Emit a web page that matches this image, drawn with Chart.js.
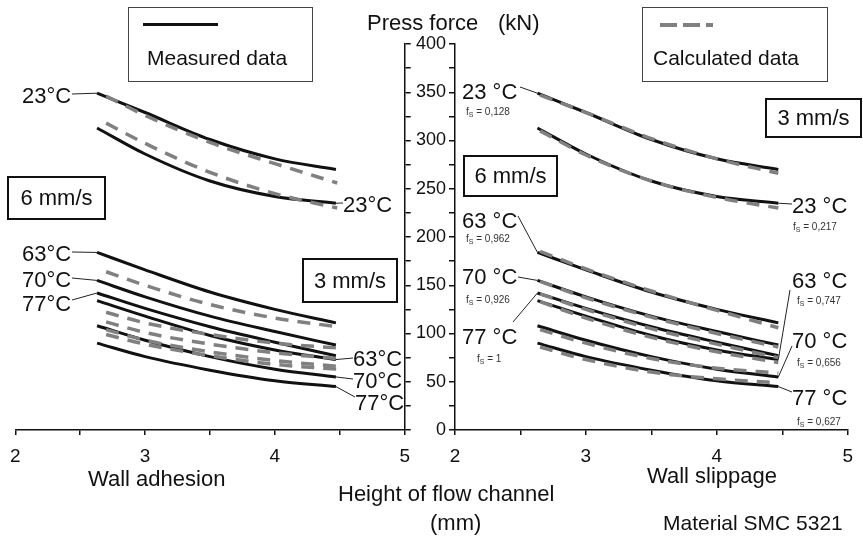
<!DOCTYPE html>
<html>
<head>
<meta charset="utf-8">
<script src="https://cdn.jsdelivr.net/npm/chart.js@4.4.1/dist/chart.umd.min.js"></script>
<style>
  html, body { margin: 0; padding: 0; background: #fff; }
  #wrap { position: relative; width: 863px; height: 537px; overflow: hidden;
          font-family: "Liberation Sans", Arial, sans-serif; color: #111; }
  canvas { position: absolute; top: 0; }
  #leftChart { left: 0; }
  #rightChart { left: 408px; }
  .t { position: absolute; white-space: nowrap; line-height: 1; }
  .box { position: absolute; box-sizing: border-box; border: 2.5px solid #111;
         display: flex; align-items: center; justify-content: center; line-height: 1; }
  .legend { position: absolute; box-sizing: border-box; border: 1.5px solid #444; }
</style>
</head>
<body>
<div id="wrap">
  <canvas id="leftChart" width="420" height="537"></canvas>
  <canvas id="rightChart" width="455" height="537"></canvas>
</div>
<script>
const FONT = '"Liberation Sans", Arial, sans-serif';

// Height of flow channel (mm)
const heightMeasured = [2.63, 3.0, 3.5, 4.0, 4.47];
const heightAdhesion = [2.70, 3.0, 3.5, 4.0, 4.48];
const heightSlippage = [2.65, 3.0, 3.5, 4.0, 4.47];

// Measured press force (kN), same in both panels
const meas23v6 = [349, 329, 301, 281, 270];
const meas63v6 = [184, 166, 143, 125, 111];
const meas70v6 = [155, 138, 118, 102, 88];
const meas77v6 = [142, 126, 107, 91, 77];
const meas23v3 = [313, 286, 258, 242, 235];
const meas63v3 = [134, 118, 98, 83, 73];
const meas70v3 = [108, 93, 76, 63, 55];
const meas77v3 = [90, 76, 62, 51, 45];

// Calculated, wall adhesion
const adh23v6 = [346, 326, 298, 276, 256];
const adh23v3 = [318, 297, 267, 245, 230];
const adh63v6 = [164, 150, 130, 116, 107];
const adh70v6 = [122, 111, 99, 90, 85];
const adh77v6 = [112, 101, 89, 80, 74];
const adh63v3 = [104, 93, 81, 72, 66];
const adh70v3 = [99, 89, 77, 68, 63];

// Calculated, wall slippage
const slip23v6 = [347, 329, 302, 281, 266];
const slip23v3 = [310, 285, 258, 241, 230];
const slip63v6 = [185, 167, 144, 124, 106];
const slip70v6 = [154, 137, 117, 100, 86];
const slip77v6 = [141, 125, 105, 89, 75];
const slip63v3 = [133, 116, 96, 81, 70];
const slip70v3 = [104, 90, 74, 64, 59];
const slip77v3 = [86, 73, 60, 53, 49];

const yTicks = [0, 50, 100, 150, 200, 250, 300, 350, 400];
const xTicks = [2, 3, 4, 5];

const measuredAll = [meas23v6, meas63v6, meas70v6, meas77v6, meas23v3, meas63v3, meas70v3, meas77v3];
const adhesionAll = [adh23v6, adh23v3, adh63v6, adh70v6, adh77v6, adh63v3, adh70v3];
const slippageAll = [slip23v6, slip23v3, slip63v6, slip70v6, slip77v6, slip63v3, slip70v3, slip77v3];

const solidStyle = { borderColor: '#111', borderWidth: 3, pointRadius: 0, fill: false,
                     cubicInterpolationMode: 'monotone', order: 1 };
const dashStyle = { borderColor: '#808080', borderWidth: 3.5, borderDash: [13, 9], pointRadius: 0,
                    fill: false, cubicInterpolationMode: 'monotone', order: 0 };

function line(xs, ys, style) {
    return Object.assign({ data: ys.map((v, i) => ({ x: xs[i], y: v })) }, style);
}

// temperature labels with leader lines to the curve ends
function labelPlugin(items) {
    return {
        id: 'tempLabels',
        afterDatasetsDraw(chart) {
            const ctx = chart.ctx, xs = chart.scales.x, ys = chart.scales.y;
            ctx.save();
            items.forEach(it => {
                if (it.series) {
                    const i = it.end === 'last' ? it.series.length - 1 : 0;
                    const px = xs.getPixelForValue(it.heights[i]);
                    const py = ys.getPixelForValue(it.series[i]);
                    ctx.strokeStyle = '#222';
                    ctx.lineWidth = 1;
                    ctx.beginPath();
                    ctx.moveTo(it.from[0], it.from[1]);
                    ctx.lineTo(px, py);
                    ctx.stroke();
                }
                if (it.text) {
                    ctx.fillStyle = '#111';
                    ctx.font = it.size + 'px ' + FONT;
                    ctx.textBaseline = 'alphabetic';
                    ctx.fillText(it.text, it.x, it.y + it.size * 0.358);
                }
                if (it.fs) {
                    let x = it.x;
                    const base = it.y + 3.5;
                    ctx.fillStyle = '#333';
                    ctx.font = '10px ' + FONT;
                    ctx.fillText('f', x, base);
                    x += ctx.measureText('f').width;
                    ctx.font = '7px ' + FONT;
                    ctx.fillText('S', x, base + 2);
                    x += ctx.measureText('S').width;
                    ctx.font = '10px ' + FONT;
                    ctx.fillText(' = ' + it.fs, x, base);
                }
            });
            ctx.restore();
        }
    };
}

function xScale() {
    return {
        type: 'linear', min: 2, max: 5,
        afterFit: s => { s.height = 107; },
        border: { color: '#111', width: 1.5 },
        grid: { drawOnChartArea: false, tickLength: 5, color: '#111', lineWidth: 1.5 },
        ticks: { stepSize: 0.5, autoSkip: false, maxRotation: 0, padding: 10, color: '#111',
                 font: { size: 19, family: FONT },
                 callback: v => xTicks.includes(v) ? v : '' }
    };
}

function baseOptions(yScale, padding) {
    return {
        responsive: false,
        animation: false,
        layout: { padding: padding },
        plugins: { legend: { display: false }, tooltip: { enabled: false } },
        scales: { x: xScale(), y: yScale }
    };
}

const leftChart = new Chart(document.getElementById('leftChart'), {
    type: 'line',
    data: {
        datasets: [
            ...measuredAll.map(s => line(heightMeasured, s, solidStyle)),
            ...adhesionAll.map(s => line(heightAdhesion, s, dashStyle))
        ]
    },
    options: baseOptions({
        type: 'linear', position: 'right', min: 0, max: 400,
        afterFit: s => { s.width = 12; },
        border: { color: '#111', width: 1.5 },
        grid: { drawOnChartArea: false, tickLength: 6, color: '#111', lineWidth: 1.5 },
        ticks: { display: false, stepSize: 25 }
    }, { left: 12, top: 44, right: 0, bottom: 0 }),
    plugins: [labelPlugin([
        { text: '23°C', x: 22, y: 95, size: 22, series: meas23v6, heights: heightMeasured, end: 'first', from: [72, 94] },
        { text: '63°C', x: 22, y: 253, size: 22, series: meas63v6, heights: heightMeasured, end: 'first', from: [72, 252] },
        { text: '70°C', x: 22, y: 279, size: 22, series: meas70v6, heights: heightMeasured, end: 'first', from: [72, 278] },
        { text: '77°C', x: 22, y: 303, size: 22, series: meas77v6, heights: heightMeasured, end: 'first', from: [72, 300] },
        { text: '23°C', x: 343, y: 204, size: 22, series: meas23v3, heights: heightMeasured, end: 'last', from: [343, 203] },
        { text: '63°C', x: 353, y: 358, size: 22, series: meas63v3, heights: heightMeasured, end: 'last', from: [353, 358] },
        { text: '70°C', x: 353, y: 380, size: 22, series: meas70v3, heights: heightMeasured, end: 'last', from: [353, 379] },
        { text: '77°C', x: 355, y: 402, size: 22, series: meas77v3, heights: heightMeasured, end: 'last', from: [355, 397] }
    ])]
});

const rightChart = new Chart(document.getElementById('rightChart'), {
    type: 'line',
    data: {
        datasets: [
            ...measuredAll.map(s => line(heightMeasured, s, solidStyle)),
            ...slippageAll.map(s => line(heightSlippage, s, dashStyle))
        ]
    },
    options: baseOptions({
        type: 'linear', position: 'left', min: 0, max: 400,
        afterFit: s => { s.width = 47; },
        border: { color: '#111', width: 1.5 },
        grid: { drawOnChartArea: false, tickLength: 6, color: '#111', lineWidth: 1.5 },
        ticks: { stepSize: 25, autoSkip: false, padding: 3, color: '#111',
                 font: { size: 18, family: FONT },
                 callback: v => yTicks.includes(v) ? v : '' }
    }, { left: 0, top: 44, right: 9, bottom: 0 }),
    plugins: [labelPlugin([
        { text: '23 °C', x: 54, y: 91, size: 22, series: meas23v6, heights: heightMeasured, end: 'first', from: [112, 87] },
        { fs: '0,128', x: 58, y: 111 },
        { text: '63 °C', x: 54, y: 220, size: 22, series: meas63v6, heights: heightMeasured, end: 'first', from: [110, 216] },
        { fs: '0,962', x: 58, y: 238 },
        { text: '70 °C', x: 54, y: 276, size: 22, series: meas70v6, heights: heightMeasured, end: 'first', from: [110, 277] },
        { fs: '0,926', x: 58, y: 299 },
        { text: '77 °C', x: 54, y: 336, size: 22, series: meas77v6, heights: heightMeasured, end: 'first', from: [105, 322] },
        { fs: '1', x: 69, y: 358 },
        { text: '23 °C', x: 384, y: 205, size: 22, series: meas23v3, heights: heightMeasured, end: 'last', from: [384, 204] },
        { fs: '0,217', x: 385, y: 226 },
        { text: '63 °C', x: 384, y: 280, size: 22, series: meas63v3, heights: heightMeasured, end: 'last', from: [382, 290] },
        { fs: '0,747', x: 389, y: 300 },
        { text: '70 °C', x: 384, y: 340, size: 22, series: meas70v3, heights: heightMeasured, end: 'last', from: [384, 346] },
        { fs: '0,656', x: 389, y: 362 },
        { text: '77 °C', x: 384, y: 397, size: 22, series: meas77v3, heights: heightMeasured, end: 'last', from: [384, 392] },
        { fs: '0,627', x: 389, y: 421 }
    ])]
});

// page texts and boxes
const wrap = document.getElementById('wrap');
function addText(txt, x, cy, size) {
    const d = document.createElement('div');
    d.className = 't';
    d.textContent = txt;
    d.style.left = x + 'px';
    d.style.top = (cy - size * 0.49) + 'px';
    d.style.fontSize = size + 'px';
    wrap.appendChild(d);
}
function addBox(txt, x, y, w, h, size) {
    const d = document.createElement('div');
    d.className = 'box';
    d.textContent = txt;
    Object.assign(d.style, { left: x + 'px', top: y + 'px', width: w + 'px', height: h + 'px', fontSize: size + 'px' });
    wrap.appendChild(d);
}
function addDiv(cls, style) {
    const d = document.createElement('div');
    d.className = cls;
    Object.assign(d.style, style);
    wrap.appendChild(d);
}

addText('Press force', 367, 23, 22);
addText('(kN)', 498, 23, 22);

addDiv('legend', { left: '128px', top: '7px', width: '185px', height: '75px' });
addDiv('t', { left: '143px', top: '23px', width: '75px', height: '3px', background: '#111' });
addText('Measured data', 147, 57, 21);

addDiv('legend', { left: '642px', top: '7px', width: '186px', height: '75px' });
addDiv('t', { left: '660px', top: '23px', width: '53px', height: '3.5px',
              background: 'repeating-linear-gradient(to right, #808080 0 17px, transparent 17px 23px)' });
addText('Calculated data', 653, 57, 21);

addBox('6 mm/s', 7, 176, 99, 44, 22);
addBox('3 mm/s', 302, 258, 96, 45, 22);
addBox('6 mm/s', 463, 155, 95, 42, 22);
addBox('3 mm/s', 765, 98, 97, 40, 22);

addText('Wall adhesion', 88, 479, 22);
addText('Height of flow channel', 338, 494, 22);
addText('(mm)', 430, 523, 22);
addText('Wall slippage', 647, 476, 22);
addText('Material SMC 5321', 663, 522, 21);
</script>
</body>
</html>
